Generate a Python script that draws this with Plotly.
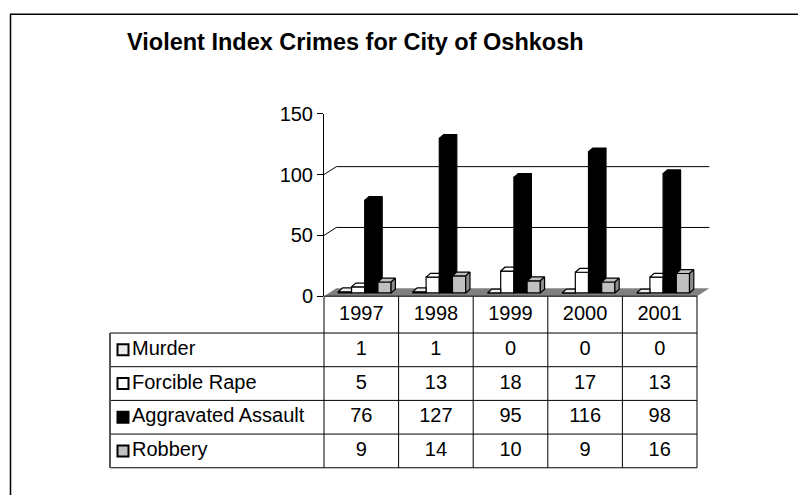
import plotly.graph_objects as go

# data
years = ['1997', '1998', '1999', '2000', '2001']
series = ['Murder', 'Forcible Rape', 'Aggravated Assault', 'Robbery']
murder = [1, 1, 0, 0, 0]
rape = [5, 13, 18, 17, 13]
assault = [76, 127, 95, 116, 98]
robbery = [9, 14, 10, 9, 16]
values = [murder, rape, assault, robbery]
y_ticks = [0, 50, 100, 150]

front_col = ['#ececec', '#ffffff', '#000000', '#c0c0c0']
side_col = ['#bcbcbc', '#dddddd', '#000000', '#8c8c8c']
FONT = 'Liberation Sans, Arial, sans-serif'

W, H = 798, 495
PX_X = 74.6            # px per category
PX_Y = 191 / 150       # px per value unit
X0, Y0, YTOP = 324, 298.5, 107.5

# 3d look (in axis units)
dxw, dyw = 12.3 / PX_X, 8.3 / PX_Y      # back wall depth
ddx, ddy = 4.3 / PX_X, 4.0 / PX_Y       # bar depth
bw = 13.2 / PX_X
bx = 3.4 / PX_X
base = 2.7
xmax = 4.5 + dxw + 0.03

fig = go.Figure()

# bar fronts
for k, name in enumerate(series):
    fig.add_trace(go.Bar(
        x=list(range(len(years))), y=values[k], base=base,
        width=bw, offset=-2 * bw + k * bw + bx,
        marker=dict(color=front_col[k], line=dict(color='black', width=1.2)),
        name=name, showlegend=False, hoverinfo='skip'))

# tops and sides
for k in range(len(series)):
    tx, ty, sx, sy = [], [], [], []
    for i in range(len(years)):
        v = values[k][i]
        L = i - 2 * bw + k * bw + bx
        R = L + bw
        t = base + v
        nxt = values[k + 1][i] if k < len(series) - 1 else None
        if nxt is None or nxt < v:
            tx += [L, L + ddx, R + ddx, R, L, None]
        else:
            tx += [L, L + ddx, R, R, L, None]
        ty += [t, t + ddy, t + ddy, t, t, None]
        if nxt is None or nxt < v:
            lo = base if nxt is None else base + nxt
            sx += [R, R, R + ddx, R + ddx, R, None]
            sy += [lo, t, t + ddy, lo + ddy, lo, None]
    fig.add_trace(go.Scatter(x=tx, y=ty, mode='lines', fill='toself',
                             fillcolor=front_col[k], line=dict(color='black', width=1.2),
                             showlegend=False, hoverinfo='skip'))
    if sx:
        fig.add_trace(go.Scatter(x=sx, y=sy, mode='lines', fill='toself',
                                 fillcolor=side_col[k], line=dict(color='black', width=1.2),
                                 showlegend=False, hoverinfo='skip'))

shapes = []
# floor
shapes.append(dict(type='path', xref='x', yref='y', layer='below',
                   path=f'M -0.5,0 L {-0.5 + dxw},{dyw} L {4.5 + dxw},{dyw} L 4.5,0 Z',
                   fillcolor='#808080', line=dict(width=0)))
# back wall gridlines
for v in y_ticks[1:-1]:
    shapes.append(dict(type='path', xref='x', yref='y', layer='below',
                       path=f'M -0.5,{v} L {-0.5 + dxw},{v + dyw} L {4.5 + dxw},{v + dyw}',
                       line=dict(color='black', width=1)))
# outer frame (runs off the right and bottom edges)
shapes.append(dict(type='rect', xref='paper', yref='paper',
                   x0=10.5 / W, x1=1.05, y0=-0.05, y1=1 - 3.5 / H,
                   line=dict(color='black', width=1.5)))

# ---- data table (own axes: x in categories, y in px below the floor)
lab_w = 214 / PX_X
xl = -0.5 - lab_w
row_h = [38.5, 35.25, 35.25, 35.25, 35.25]
edges = [0]
for h in row_h:
    edges.append(edges[-1] + h)
bottom = edges[-1]
centers = [(edges[j] + edges[j + 1]) / 2 for j in range(len(row_h))]

lx, ly = [], []
lx += [-0.5, 4.5, None]; ly += [0, 0, None]
for e in edges[1:]:
    lx += [xl, 4.5, None]; ly += [e, e, None]
for j in range(len(years) + 1):
    lx += [-0.5 + j, -0.5 + j, None]; ly += [0, bottom, None]
fig.add_trace(go.Scatter(x=lx, y=ly, mode='lines', xaxis='x2', yaxis='y2',
                         line=dict(color='black', width=1), showlegend=False, hoverinfo='skip'))
# left border of the label column is a bit heavier
fig.add_trace(go.Scatter(x=[xl, xl], y=[edges[1], bottom], mode='lines', xaxis='x2', yaxis='y2',
                         line=dict(color='#555555', width=2), showlegend=False, hoverinfo='skip'))

cx, cy, ct = [], [], []
for i, yr in enumerate(years):
    cx.append(i); cy.append(centers[0]); ct.append(yr)
for k in range(len(series)):
    for i in range(len(years)):
        cx.append(i); cy.append(centers[k + 1]); ct.append(str(values[k][i]))
fig.add_trace(go.Scatter(x=cx, y=cy, text=ct, mode='text', xaxis='x2', yaxis='y2',
                         textfont=dict(family=FONT, size=20, color='black'),
                         showlegend=False, hoverinfo='skip', cliponaxis=False))
fig.add_trace(go.Scatter(x=[xl + 22 / PX_X] * len(series), y=centers[1:], text=series,
                         mode='text', textposition='middle right', xaxis='x2', yaxis='y2',
                         textfont=dict(family=FONT, size=20, color='black'),
                         showlegend=False, hoverinfo='skip', cliponaxis=False))
fig.add_trace(go.Scatter(x=[xl + 13 / PX_X] * len(series), y=centers[1:], mode='markers',
                         xaxis='x2', yaxis='y2',
                         marker=dict(symbol='square', size=11, color=front_col,
                                     line=dict(color='black', width=2)),
                         showlegend=False, hoverinfo='skip', cliponaxis=False))

pad = 2
fig.update_layout(
    width=W, height=H,
    margin=dict(l=0, r=0, t=0, b=0),
    paper_bgcolor='white', plot_bgcolor='rgba(0,0,0,0)',
    barmode='overlay',
    shapes=shapes,
    font=dict(family=FONT, color='black'),
    xaxis=dict(domain=[X0 / W, (X0 + (xmax + 0.5) * PX_X) / W], range=[-0.5, xmax],
               visible=False),
    yaxis=dict(domain=[1 - Y0 / H, 1 - YTOP / H], range=[0, 150],
               tickvals=y_ticks, showline=True, linecolor='black', linewidth=1,
               ticks='outside', ticklen=6, tickcolor='black', showgrid=False,
               zeroline=False, tickfont=dict(family=FONT, size=20, color='black')),
    xaxis2=dict(domain=[(110 - pad) / W, (X0 + 5 * PX_X + pad) / W],
                range=[xl - pad / PX_X, 4.5 + pad / PX_X], anchor='y2', visible=False),
    yaxis2=dict(domain=[1 - (Y0 + bottom + pad) / H, 1 - (Y0 - pad) / H],
                range=[bottom + pad, -pad], anchor='x2', visible=False),
    annotations=[dict(text='<b>Violent Index Crimes for City of Oshkosh</b>',
                      xref='paper', yref='paper', x=355 / W, y=1 - 32 / H,
                      xanchor='center', yanchor='middle', showarrow=False,
                      font=dict(family=FONT, size=23.5, color='black'))],
)

fig.write_html('out.html', config={'displayModeBar': False},
               post_script="document.body.style.margin='0';document.body.style.overflow='hidden';")
